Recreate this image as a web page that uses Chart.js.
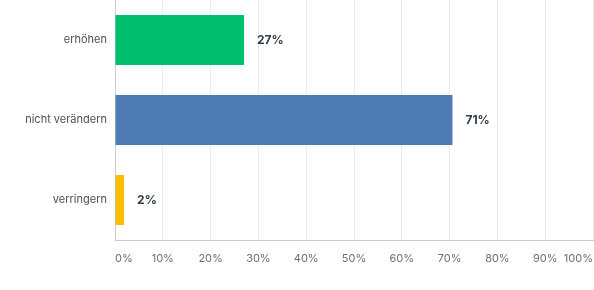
<!DOCTYPE html>
<html>
<head>
<meta charset="utf-8">
<script src="https://cdn.jsdelivr.net/npm/chart.js@4/dist/chart.umd.min.js"></script>
<style>
  html, body { margin: 0; padding: 0; background: #fff; }
  #wrap { width: 594px; height: 290px; position: relative; }
</style>
</head>
<body>
<div id="wrap"><canvas id="myChart"></canvas></div>
<script>
// setup
const categories = ['erhöhen', 'nicht verändern', 'verringern'];
const shares = [27.0, 70.6, 1.9];
const shareLabels = ['27%', '71%', '2%'];
const barColors = ['#00bf6f', '#507cb6', '#f9be00'];
const tickValues = [0, 10, 20, 30, 40, 50, 60, 70, 80, 90, 100];

// draws the percentage next to each bar
const valueLabels = {
  id: 'valueLabels',
  afterDatasetsDraw(chart) {
    const ctx = chart.ctx;
    const meta = chart.getDatasetMeta(0);
    ctx.save();
    ctx.font = 'bold 12px Inter, "Noto Sans", sans-serif';
    ctx.fillStyle = '#333e48';
    ctx.textAlign = 'left';
    ctx.textBaseline = 'middle';
    meta.data.forEach((bar, i) => {
      ctx.fillText(shareLabels[i], bar.x + 13, bar.y);
    });
    ctx.restore();
  }
};

const data = {
  labels: categories,
  datasets: [{
    data: shares,
    backgroundColor: barColors,
    borderWidth: 0,
    barPercentage: 1,
    categoryPercentage: 0.625
  }]
};

const config = {
  type: 'bar',
  data,
  options: {
    indexAxis: 'y',
    responsive: true,
    maintainAspectRatio: false,
    animation: false,
    layout: { padding: { top: 0, right: 1, bottom: 0, left: 0 } },
    plugins: {
      legend: { display: false },
      tooltip: { enabled: false }
    },
    scales: {
      x: {
        min: 0,
        max: 100,
        afterBuildTicks(axis) {
          axis.ticks = tickValues.map(v => ({ value: v }));
        },
        afterFit(axis) {
          axis.height = 50;
          axis.paddingLeft = 0;
          axis.paddingRight = 0;
        },
        grid: { color: '#ebebeb', drawTicks: false },
        border: { color: '#cccccc', width: 1 },
        ticks: {
          align: 'inner',
          padding: 12,
          color: '#6a7075',
          font: { family: 'Inter, "Noto Sans", sans-serif', size: 11 },
          callback: v => v + '%'
        }
      },
      y: {
        afterFit(axis) {
          axis.width = 115;
          axis.paddingTop = 0;
          axis.paddingBottom = 0;
        },
        grid: { display: false, drawTicks: false },
        border: { color: '#cccccc', width: 1 },
        ticks: {
          padding: 8,
          color: '#4a5056',
          font: { family: 'Inter, "Noto Sans", sans-serif', size: 11 }
        }
      }
    }
  },
  plugins: [valueLabels]
};

const ctx = document.getElementById('myChart');
const myChart = new Chart(ctx, config);
</script>
</body>
</html>
